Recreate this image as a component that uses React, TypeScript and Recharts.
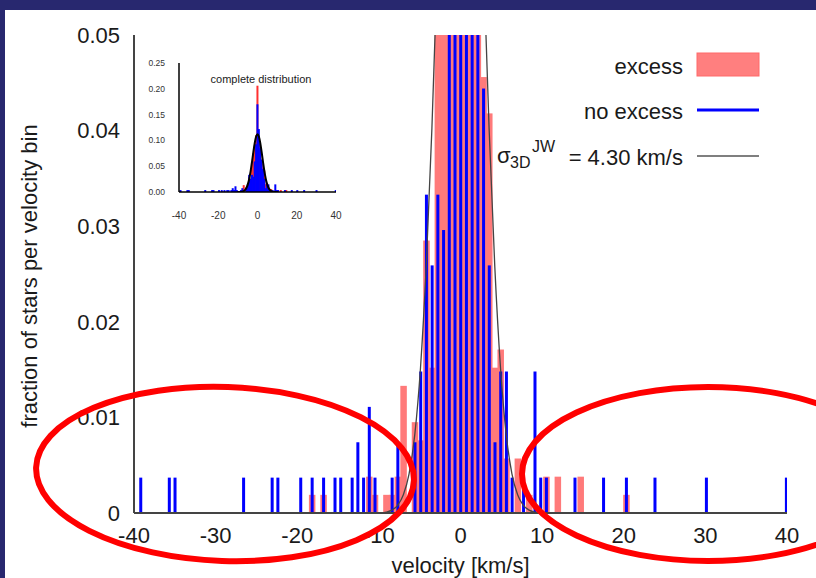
import { Bar, ComposedChart, Line, XAxis, YAxis } from "recharts";

// histogram bins are 0.7 km/s wide; fraction of stars per bin
const redVelocity = [
  -18.2, -16.8, -11.2, -10.5, -9.1, -8.4, -7.7, -7.0, -5.6, -4.9, -4.2, -3.5, -2.8, -2.1, -1.4, -0.7, 0.0, 0.7,
  1.4, 2.1, 2.8, 3.5, 4.2, 4.9, 5.6, 7.0, 8.4, 10.5, 11.9, 14.7, 20.3,
];
const redFraction = [
  0.0019, 0.0019, 0.0038, 0.0019, 0.0019, 0.0019, 0.0038, 0.0133, 0.0095, 0.0076, 0.0285, 0.0152, 0.058, 0.075,
  0.09, 0.11, 0.206, 0.094, 0.07, 0.055, 0.0456, 0.0418, 0.0152, 0.0171, 0.0057, 0.0057, 0.0019, 0.0038, 0.0038,
  0.0038, 0.0019,
];

const blueVelocity = [
  -39.2, -35.7, -35.0, -26.6, -23.1, -22.4, -19.6, -18.2, -16.8, -15.4, -14.7, -13.3, -12.6, -11.9, -11.2, -10.5,
  -8.4, -7.7, -5.6, -4.9, -4.2, -3.5, -2.8, -2.1, -1.4, -0.7, 0.0, 0.7, 1.4, 2.1, 2.8, 3.5, 4.2, 4.9, 5.6, 6.3,
  7.7, 9.1, 9.8, 10.5, 14.0, 17.5, 20.3, 23.8, 30.1, 39.9,
];
const blueFraction = [
  0.0037, 0.0037, 0.0037, 0.0037, 0.0037, 0.0037, 0.0037, 0.0037, 0.0037, 0.0037, 0.0037, 0.0037, 0.0074, 0.0037,
  0.0111, 0.0037, 0.0037, 0.0074, 0.0074, 0.0148, 0.0333, 0.0259, 0.0333, 0.0296, 0.0593, 0.0926, 0.17, 0.122,
  0.085, 0.063, 0.0444, 0.0259, 0.0074, 0.0148, 0.0148, 0.0037, 0.0037, 0.0148, 0.0037, 0.0037, 0.0037, 0.0037,
  0.0037, 0.0037, 0.0037, 0.0037,
];

// sigma_3D = 4.30 km/s model curve, sampled at the bin centres
const modelVelocity = [
  -10.5, -9.8, -9.1, -8.4, -7.7, -7.0, -6.3, -5.6, -4.9, -4.2, -3.5, -2.8, -2.1, -1.4, -0.7, 0.0, 0.7, 1.4, 2.1,
  2.8, 3.5, 4.2, 4.9, 5.6, 6.3, 7.0, 7.7, 8.4, 9.1, 9.8, 10.5,
];
const modelFraction = [
  0, 0, 0.0001, 0.0003, 0.0008, 0.0019, 0.0041, 0.0082, 0.0152, 0.0258, 0.0403, 0.0583, 0.0775, 0.0951, 0.1075,
  0.112, 0.1075, 0.0951, 0.0775, 0.0583, 0.0403, 0.0258, 0.0152, 0.0082, 0.0041, 0.0019, 0.0008, 0.0003, 0.0001, 0,
  0,
];

const xTicks = [-40, -30, -20, -10, 0, 10, 20, 30, 40];
const yTicks = [0, 0.01, 0.02, 0.03, 0.04, 0.05];
const insetXTicks = [-40, -20, 0, 20, 40];
const insetYTicks = [0, 0.05, 0.1, 0.15, 0.2, 0.25];

const FONT = "'Liberation Sans', Arial, Helvetica, sans-serif";
const RED = "#ff7a7a";
const BLUE = "#0000ff";
const AXIS = "#444";

type Row = { v: number; excess?: number; noExcess?: number; model?: number };

function buildRows(): Row[] {
  const map = new Map<number, Row>();
  const add = (vs: number[], ys: number[], key: "excess" | "noExcess" | "model") => {
    vs.forEach((v, i) => {
      const id = Math.round(v * 10);
      const row = map.get(id) ?? { v };
      row[key] = ys[i];
      map.set(id, row);
    });
  };
  add(redVelocity, redFraction, "excess");
  add(blueVelocity, blueFraction, "noExcess");
  add(modelVelocity, modelFraction, "model");
  return [...map.values()].sort((a, b) => a.v - b.v);
}

const rows = buildRows();

// keep bars centred on the bin, with a fixed pixel width
const barShape = (w: number, fill: string) => (props: any) => {
  const { x, y, width, height } = props;
  if (!height || !isFinite(y)) return <g />;
  const cx = x + width / 2;
  return <rect x={cx - w / 2} y={y} width={w} height={height} fill={fill} />;
};

const fmtY = (t: number) => (t === 0 ? "0" : t.toFixed(2));

function Inset() {
  return (
    <div style={{ position: "absolute", left: 140, top: 55 }}>
      <ComposedChart width={214} height={170} data={rows} margin={{ top: 8, right: 18, bottom: 0, left: 0 }}>
        <XAxis
          xAxisId="a"
          dataKey="v"
          type="number"
          domain={[-40, 40]}
          ticks={insetXTicks}
          interval={0}
          allowDataOverflow
          height={33}
          tickLine={false}
          tickSize={4}
          tickMargin={16}
          axisLine={{ stroke: "#000", strokeWidth: 1.5 }}
          tick={{ fontSize: 10, fill: "#333", fontFamily: FONT }}
        />
        <XAxis xAxisId="b" dataKey="v" type="number" domain={[-40, 40]} ticks={insetXTicks} interval={0}
          allowDataOverflow mirror height={0} tick={false} tickSize={4} axisLine={false} tickLine={{ stroke: "#000" }} />
        <XAxis xAxisId="t" orientation="top" dataKey="v" type="number" domain={[-40, 40]} ticks={insetXTicks}
          interval={0} allowDataOverflow mirror height={0} tick={false} tickSize={4}
          axisLine={{ stroke: "#000", strokeWidth: 1.5 }} tickLine={{ stroke: "#000" }} />
        <YAxis
          yAxisId="a"
          domain={[0, 0.25]}
          ticks={insetYTicks}
          interval={0}
          allowDataOverflow
          width={39}
          tickLine={false}
          tickSize={4}
          tickMargin={10}
          tickFormatter={(t: number) => t.toFixed(2)}
          axisLine={{ stroke: "#000", strokeWidth: 1.5 }}
          tick={{ fontSize: 8.5, fill: "#333", fontFamily: FONT }}
        />
        <YAxis yAxisId="b" domain={[0, 0.25]} ticks={insetYTicks} interval={0} allowDataOverflow mirror width={0}
          tick={false} tickSize={4} axisLine={false} tickLine={{ stroke: "#000" }} />
        <YAxis yAxisId="r" orientation="right" domain={[0, 0.25]} ticks={insetYTicks} interval={0} allowDataOverflow
          mirror width={0} tick={false} tickSize={4} axisLine={{ stroke: "#000", strokeWidth: 1.5 }}
          tickLine={{ stroke: "#000" }} />
        <Bar xAxisId="a" yAxisId="a" dataKey="excess" fill="#ff3030" shape={barShape(2, "#ff3030")} isAnimationActive={false} />
        <Bar xAxisId="b" yAxisId="b" dataKey="noExcess" fill={BLUE} shape={barShape(2, BLUE)} isAnimationActive={false} />
        <Line xAxisId="t" yAxisId="r" dataKey="model" type="monotone" stroke="#000" strokeWidth={2} dot={false}
          isAnimationActive={false} />
      </ComposedChart>
    </div>
  );
}

export default function App() {
  return (
    <div style={{ position: "fixed", left: 0, top: 0, width: 816, height: 578, background: "#28286f", overflow: "hidden" }}>
      <div style={{ position: "absolute", left: 5, top: 10, right: 0, bottom: 0, background: "#fff" }} />
      <div style={{ position: "absolute", left: 0, top: 0 }}>
        <ComposedChart width={816} height={578} data={rows} margin={{ top: 35, right: 29, bottom: 0, left: 0 }}>
          <XAxis
            xAxisId="a"
            dataKey="v"
            type="number"
            domain={[-40, 40]}
            ticks={xTicks}
            interval={0}
            allowDataOverflow
            height={65}
            tickLine={false}
            tickSize={8}
            tickMargin={6}
            axisLine={{ stroke: AXIS, strokeWidth: 2 }}
            tick={{ fontSize: 22, fill: "#1a1a1a", fontFamily: FONT }}
            label={{
              value: "velocity [km/s]",
              position: "insideBottom",
              offset: 5,
              fontSize: 22,
              fill: "#1a1a1a",
              fontFamily: FONT,
            }}
          />
          <XAxis xAxisId="b" dataKey="v" type="number" domain={[-40, 40]} ticks={xTicks} interval={0}
            allowDataOverflow mirror height={0} tick={false} tickSize={7} axisLine={false}
            tickLine={{ stroke: AXIS, strokeWidth: 1.5 }} />
          <XAxis xAxisId="t" orientation="top" dataKey="v" type="number" domain={[-40, 40]} ticks={xTicks}
            interval={0} allowDataOverflow mirror height={0} tick={false} tickSize={7}
            axisLine={{ stroke: AXIS, strokeWidth: 2 }} tickLine={{ stroke: AXIS, strokeWidth: 1.5 }} />
          <YAxis
            yAxisId="a"
            domain={[0, 0.05]}
            ticks={yTicks}
            interval={0}
            allowDataOverflow
            width={134}
            tickLine={false}
            tickSize={8}
            tickMargin={6}
            tickFormatter={fmtY}
            axisLine={{ stroke: AXIS, strokeWidth: 2 }}
            tick={{ fontSize: 22, fill: "#1a1a1a", fontFamily: FONT }}
            label={{
              content: () => (
                <text
                  x={29}
                  y={276}
                  transform="rotate(-90 29 276)"
                  textAnchor="middle"
                  dominantBaseline="central"
                  fontSize={22}
                  fill="#1a1a1a"
                  fontFamily={FONT}
                >
                  fraction of stars per velocity bin
                </text>
              ),
            }}
          />
          <YAxis yAxisId="b" domain={[0, 0.05]} ticks={yTicks} interval={0} allowDataOverflow mirror width={0}
            tick={false} tickSize={7} axisLine={false} tickLine={{ stroke: AXIS, strokeWidth: 1.5 }} />
          <YAxis yAxisId="r" orientation="right" domain={[0, 0.05]} ticks={yTicks} interval={0} allowDataOverflow
            mirror width={0} tick={false} tickSize={7} axisLine={{ stroke: AXIS, strokeWidth: 2 }}
            tickLine={{ stroke: AXIS, strokeWidth: 1.5 }} />
          <Bar xAxisId="a" yAxisId="a" dataKey="excess" fill={RED} shape={barShape(6.5, RED)} isAnimationActive={false} />
          <Bar xAxisId="b" yAxisId="b" dataKey="noExcess" fill={BLUE} shape={barShape(3, BLUE)} isAnimationActive={false} />
          <Line xAxisId="t" yAxisId="r" dataKey="model" type="monotone" stroke="#444" strokeWidth={1.3} dot={false}
            isAnimationActive={false} />
        </ComposedChart>
      </div>
      <Inset />
      <svg width={816} height={578} style={{ position: "absolute", left: 0, top: 0, pointerEvents: "none" }}>
        <g fontFamily={FONT} fill="#1a1a1a">
          <text x={261} y={79} fontSize={11} textAnchor="middle" dominantBaseline="central">
            complete distribution
          </text>
          <rect x={697} y={53} width={62} height={23} fill="#ff7f7f" stroke="#ff6a6a" />
          <text x={683} y={66} fontSize={22} textAnchor="end" dominantBaseline="central">
            excess
          </text>
          <line x1={697} x2={759} y1={110} y2={110} stroke={BLUE} strokeWidth={3} />
          <text x={683} y={111} fontSize={22} textAnchor="end" dominantBaseline="central">
            no excess
          </text>
          <line x1={697} x2={759} y1={156} y2={156} stroke="#555" strokeWidth={1.5} />
          <text x={497} y={163} fontSize={22}>σ</text>
          <text x={510} y={168} fontSize={16}>3D</text>
          <text x={532} y={152} fontSize={16}>JW</text>
          <text x={683} y={157} fontSize={22} textAnchor="end" dominantBaseline="central">
            = 4.30 km/s
          </text>
        </g>
        <ellipse cx={225} cy={474} rx={189} ry={87} fill="none" stroke="#ff0000" strokeWidth={6}
          transform="rotate(2 225 474)" />
        <ellipse cx={708} cy={474} rx={186} ry={87} fill="none" stroke="#ff0000" strokeWidth={6} />
      </svg>
    </div>
  );
}
